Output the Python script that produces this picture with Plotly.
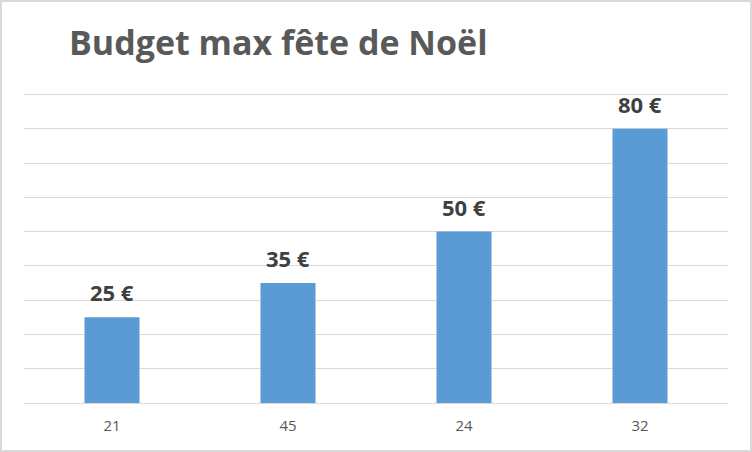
import plotly.graph_objects as go

categories = ["21", "45", "24", "32"]
values = [25, 35, 50, 80]
labels = ["25 €", "35 €", "50 €", "80 €"]
title_text = "Budget max fête de Noël"

W, H = 752, 452
ML, MR, MT, MB = 24, 24, 91, 49
PW, PH = W - ML - MR, H - MT - MB

fig = go.Figure(
    go.Bar(
        x=categories,
        y=values,
        marker=dict(color="#5B9BD5", line=dict(width=0)),
        hoverinfo="skip",
    )
)

for i, (v, t) in enumerate(zip(values, labels)):
    fig.add_annotation(
        x=i, y=v, text=t, showarrow=False, yanchor="bottom", yshift=8,
        font=dict(family="Open Sans", size=22, color="#404040", weight="bold"),
    )

# chart border
fig.add_shape(
    type="rect", xref="paper", yref="paper",
    x0=(1 - ML) / PW, x1=(W - 1 - ML) / PW,
    y0=-(H - 1 - MT - PH) / PH, y1=(MT - 1) / PH + 1,
    line=dict(color="#D9D9D9", width=2), layer="below",
)

fig.update_layout(
    width=W, height=H,
    margin=dict(l=ML, r=MR, t=MT, b=MB),
    paper_bgcolor="white", plot_bgcolor="white",
    bargap=0.6875,
    showlegend=False,
    title=dict(
        text=title_text, x=69 / W, xanchor="left", xref="container",
        y=1 - 43 / H, yanchor="middle", yref="container",
        font=dict(family="Open Sans", size=34, color="#595959", weight="bold"),
    ),
    xaxis=dict(
        type="category", categoryorder="array", categoryarray=categories,
        range=[-0.5, len(categories) - 0.5],
        showgrid=False, showline=False,
        ticks="outside", ticklen=9, tickcolor="rgba(0,0,0,0)",
        tickfont=dict(family="Open Sans", size=15, color="#595959"),
    ),
    yaxis=dict(
        range=[0, 91], tickvals=[10, 20, 30, 40, 50, 60, 70, 80, 90],
        showticklabels=False, showgrid=True,
        gridcolor="#D9D9D9", gridwidth=1, zeroline=True, zerolinecolor="#D9D9D9",
        zerolinewidth=1, showline=False,
    ),
)

fig.write_html(
    "out.html",
    config={"displayModeBar": False},
    post_script="document.body.style.margin='0';document.body.style.overflow='hidden';",
)
